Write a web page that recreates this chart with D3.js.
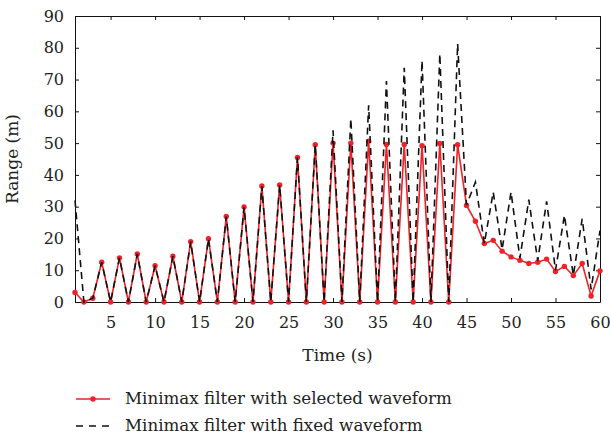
<!DOCTYPE html>
<html>
<head>
<meta charset="utf-8">
<script src="https://cdn.jsdelivr.net/npm/d3@7"></script>
<style>
  body { margin: 0; background: #fff; }
  text { font-family: "DejaVu Serif", serif; fill: #222; }
</style>
</head>
<body>
<div id="chart"></div>
<script>
// data (time in s, range in m)
var times = d3.range(1, 61);
var selected = [3, 0, 1.2, 12.5, 0, 13.9, 0, 15.1, 0, 11.4,
                 0, 14.4, 0, 19, 0, 19.9, 0, 26.9, 0, 29.9,
                 0, 36.5, 0, 36.8, 0, 45.5, 0, 49.5, 0, 50,
                 0, 50, 0, 50.6, 0, 49.6, 0, 49.6, 0, 49.2,
                 0, 49.9, 0, 49.5, 30.4, 25.4, 18.4, 19.4, 16, 14.2,
                 13.1, 12.1, 12.5, 13.5, 9.6, 11.2, 8.3, 12.1, 1.9, 9.8];
var fixed = [32, 0, 1.2, 12.5, 0, 13.9, 0, 15.1, 0, 11.4,
             0, 14.4, 0, 19, 0, 19.9, 0, 26.9, 0, 29.9,
             0, 36.5, 0, 36.8, 0, 45.5, 0, 49.5, 0, 54,
             0, 57.7, 0, 61.9, 0, 69.5, 0, 73.7, 0, 76,
             0, 78.1, 0, 81.3, 30.6, 37.7, 18.4, 34.6, 16.5, 34.6,
             13.8, 32.2, 13, 31.7, 10, 27.3, 8.4, 26.2, 4, 22.5];
var xTicks = [5, 10, 15, 20, 25, 30, 35, 40, 45, 50, 55, 60];
var yTicks = [0, 10, 20, 30, 40, 50, 60, 70, 80, 90];
var legendLabels = ["Minimax filter with selected waveform", "Minimax filter with fixed waveform"];

var margin = {top: 16, right: 10, bottom: 136, left: 75},
    width = 610 - margin.left - margin.right,
    height = 438 - margin.top - margin.bottom;

var svg = d3.select("#chart")
  .append("svg")
    .attr("width", 610)
    .attr("height", 438)
  .append("g")
    .attr("transform", "translate(" + margin.left + "," + margin.top + ")");

var x = d3.scaleLinear().domain([1, 60]).range([0, width]);
var y = d3.scaleLinear().domain([0, 90]).range([height, 0]);

// axes with inward ticks
var xAxis = svg.append("g")
  .attr("transform", "translate(0," + height + ")")
  .call(d3.axisBottom(x).tickValues(xTicks).tickSizeInner(-4).tickSizeOuter(0).tickPadding(12));
var yAxis = svg.append("g")
  .call(d3.axisLeft(y).tickValues(yTicks).tickSizeInner(-4).tickSizeOuter(0).tickPadding(11));
svg.append("g")
  .call(d3.axisTop(x).tickValues(xTicks).tickSizeInner(-4).tickSizeOuter(0).tickFormat(""));
svg.append("g")
  .attr("transform", "translate(" + width + ",0)")
  .call(d3.axisRight(y).tickValues(yTicks).tickSizeInner(-4).tickSizeOuter(0).tickFormat(""));
svg.selectAll(".domain").attr("stroke", "#111");
svg.selectAll(".tick line").attr("stroke", "#111");
svg.selectAll(".tick text")
  .style("font-family", "DejaVu Serif, serif")
  .style("font-size", "16px")
  .attr("fill", "#222");
xAxis.selectAll(".tick text").attr("dy", "0.85em");

var redCol = "#ee2228";

var line = d3.line()
  .x(function(d, i) { return x(times[i]); })
  .y(function(d) { return y(d); });

// selected waveform
svg.append("path")
  .datum(selected)
  .attr("d", line)
  .attr("fill", "none")
  .attr("stroke", redCol)
  .attr("stroke-width", 1.6);
svg.selectAll(".dot")
  .data(selected)
  .enter()
  .append("circle")
    .attr("cx", function(d, i) { return x(times[i]); })
    .attr("cy", function(d) { return y(d); })
    .attr("r", 2.7)
    .attr("fill", redCol);

// fixed waveform
svg.append("path")
  .datum(fixed)
  .attr("d", line)
  .attr("fill", "none")
  .attr("stroke", "#111")
  .attr("stroke-width", 1.6)
  .attr("stroke-dasharray", "7,5");

// axis labels
svg.append("text")
  .attr("x", width / 2)
  .attr("y", height + 59)
  .attr("text-anchor", "middle")
  .style("font-size", "17px")
  .text("Time (s)");
svg.append("text")
  .attr("transform", "translate(-57," + (height / 2) + ")rotate(-90)")
  .attr("text-anchor", "middle")
  .style("font-size", "17px")
  .text("Range (m)");

// legend
var legend = svg.append("g").attr("transform", "translate(0," + (height + 97) + ")");
legendLabels.forEach(function(lab, i) {
  var g = legend.append("g").attr("transform", "translate(0," + (i * 27) + ")");
  if (i === 0) {
    g.append("line").attr("x1", 1).attr("x2", 35).attr("y1", 0).attr("y2", 0)
      .attr("stroke", redCol).attr("stroke-width", 1.6);
    g.append("circle").attr("cx", 18).attr("cy", 0).attr("r", 2.7).attr("fill", redCol);
  } else {
    g.append("line").attr("x1", 1).attr("x2", 35).attr("y1", 0).attr("y2", 0)
      .attr("stroke", "#111").attr("stroke-width", 1.6).attr("stroke-dasharray", "7,6");
  }
  g.append("text")
    .attr("x", 50)
    .attr("y", 5)
    .style("font-size", "16.7px")
    .text(lab);
});
</script>
</body>
</html>
